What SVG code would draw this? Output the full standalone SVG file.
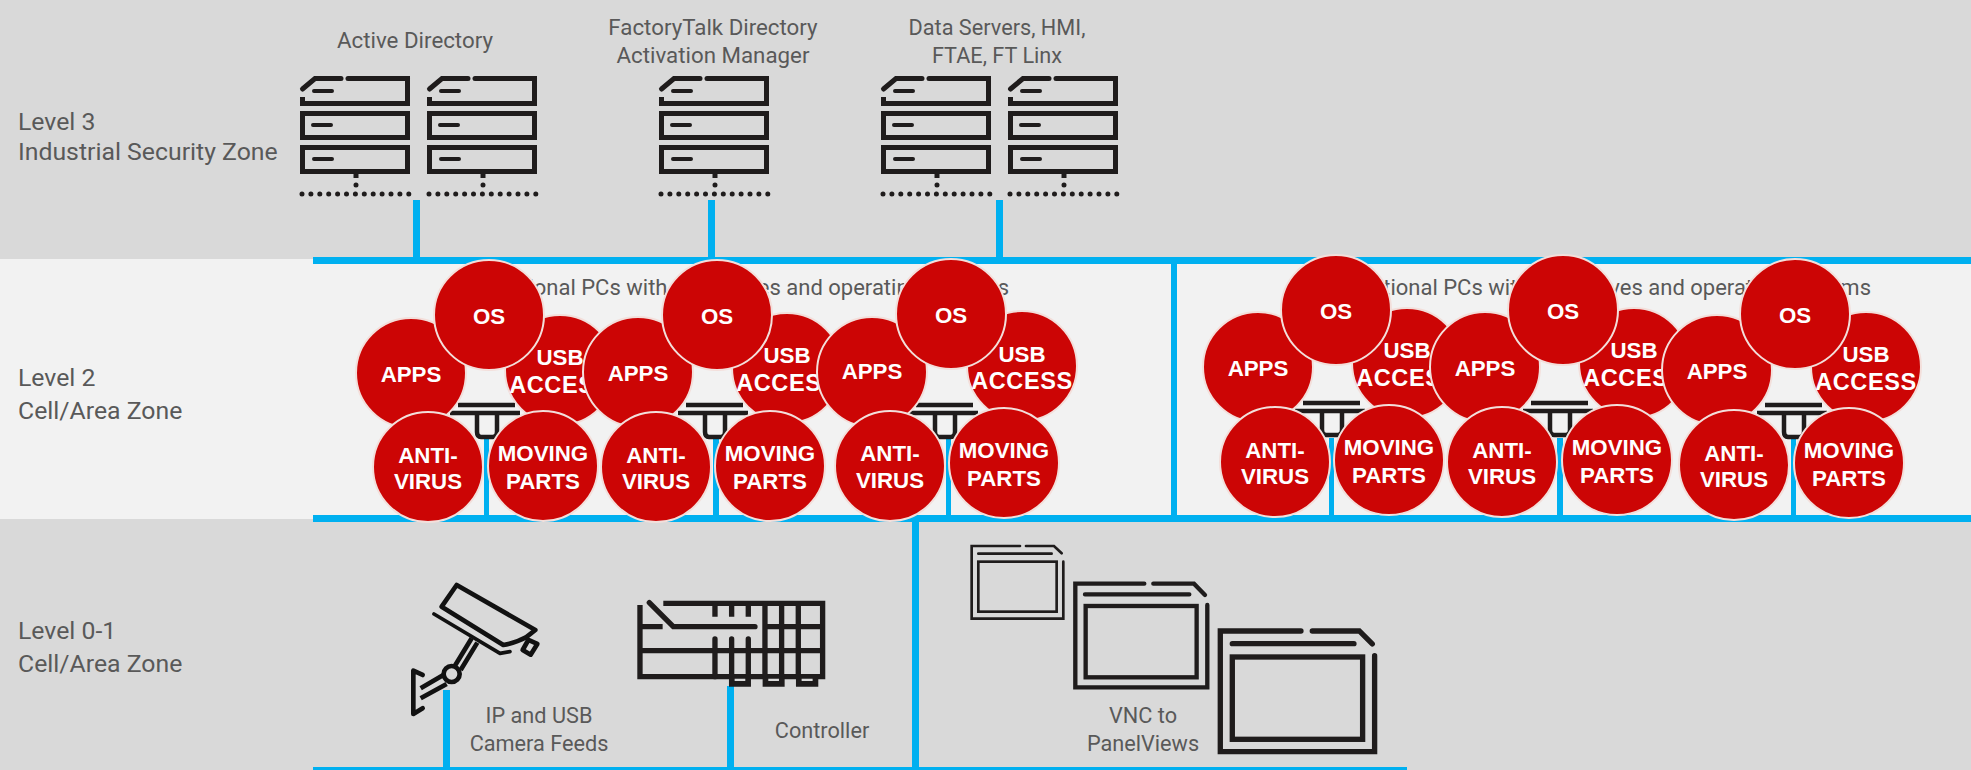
<svg xmlns="http://www.w3.org/2000/svg" width="1971" height="770" viewBox="0 0 1971 770">
<style>
.t{font-family:"Roboto","Liberation Sans",sans-serif;fill:#595959;font-size:21.7px;text-anchor:middle}
.f{font-size:22.3px}
.p{font-size:22px;text-anchor:end}
.l{font-family:"Roboto","Liberation Sans",sans-serif;fill:#595959;font-size:24.8px}
.c{fill:#CC0505;stroke:#F3DFDB;stroke-width:2}
.b{font-family:"Liberation Sans",Arial,sans-serif;font-weight:700;font-size:22.3px;fill:#fff;text-anchor:middle}
.a{font-size:23.5px;letter-spacing:.6px}
.k{fill:none;stroke:#1F1C1C;stroke-width:5}
.r{stroke-linecap:round}
.w{fill:#00B0F0}
</style>
<defs>
<g id="server" class="k">
<path class="r" d="M2.500 13 L15 2.500 H41"/>
<path class="r" d="M48 2.500 H107.500"/>
<path d="M107.500 0 V30 M110 27.500 H0 M2.500 30 V21"/>
<path class="r" stroke-width="4" d="M14 15 H32 M13 49 H31 M14 83 H32"/>
<rect x="2.500" y="37.500" width="105" height="24"/>
<rect x="2.500" y="71.500" width="105" height="24"/>
<path d="M56 98 V102"/>
<path class="r" stroke-dasharray="0 8.900" d="M56 109 V109.100 M2 118 H110"/>
</g>
<g id="stand" class="k" style="stroke-width:4.500px">
<path d="M8 3 H65 M0 11 H70 M27 11 V30 Q27 35 31 35 H43 Q47 35 47 30 V11"/>
</g>
</defs>

<g id="bands">
<rect width="1971" height="259" fill="#D9D9D9"/>
<rect y="259" width="1971" height="260" fill="#F2F2F2"/>
<rect y="519" width="1971" height="251" fill="#D9D9D9"/>
</g>

<g id="connectors" class="w">
<rect x="313" y="257" width="1658" height="7"/>
<rect x="313" y="515" width="1658" height="7"/>
<rect x="313" y="767" width="1094" height="3"/>
<rect x="413" y="200" width="7" height="58"/>
<rect x="708" y="200" width="7" height="58"/>
<rect x="996" y="200" width="7" height="58"/>
<rect x="1171" y="260" width="6" height="258"/>
<rect x="912" y="520" width="7" height="250"/>
<rect x="484" y="438" width="5" height="80"/>
<rect x="713" y="438" width="6" height="80"/>
<rect x="946" y="438" width="5" height="80"/>
<rect x="1329" y="438" width="5" height="80"/>
<rect x="1557" y="438" width="6" height="80"/>
<rect x="1791" y="438" width="5" height="80"/>
<rect x="443" y="690" width="7" height="80"/>
<rect x="727" y="686" width="7" height="84"/>
</g>

<g id="zone-labels">
<text class="l" x="18" y="130">Level 3</text>
<text class="l" x="18" y="160">Industrial Security Zone</text>
<text class="l" x="18" y="386">Level 2</text>
<text class="l" x="18" y="419">Cell/Area Zone</text>
<text class="l" x="18" y="639">Level 0-1</text>
<text class="l" x="18" y="672">Cell/Area Zone</text>
</g>

<g id="active-directory">
<text class="t f" x="415" y="48">Active Directory</text>
<use href="#server" x="300" y="76"/>
<use href="#server" x="427" y="76"/>
</g>
<g id="factorytalk-directory">
<text class="t f" x="713" y="35">FactoryTalk Directory</text>
<text class="t f" x="713" y="63">Activation Manager</text>
<use href="#server" x="659" y="76"/>
</g>
<g id="data-servers">
<text class="t" x="997" y="35">Data Servers, HMI,</text>
<text class="t" x="997" y="63">FTAE, FT Linx</text>
<use href="#server" x="881" y="76"/>
<use href="#server" x="1008" y="76"/>
</g>

<g id="pc-label-left"><text class="t p" x="1009" y="295">Traditional PCs with hard drives and operating systems</text></g>
<g id="pc-label-right"><text class="t p" x="1871" y="295">Traditional PCs with hard drives and operating systems</text></g>

<g id="pc1">
<use href="#stand" x="450" y="402"/>
<circle class="c" cx="560" cy="370" r="55"/><text class="b" x="560" y="365">USB</text><text class="b a" x="560" y="393">ACCESS</text>
<circle class="c" cx="411" cy="373" r="55"/><text class="b" x="411" y="382">APPS</text>
<circle class="c" cx="489" cy="315" r="55"/><text class="b" x="489" y="324">OS</text>
<circle class="c" cx="428" cy="467" r="55"/><text class="b" x="428" y="463">ANTI-</text><text class="b" x="428" y="489">VIRUS</text>
<circle class="c" cx="543" cy="466" r="55"/><text class="b" x="543" y="461">MOVING</text><text class="b" x="543" y="489">PARTS</text>
</g>
<g id="pc2">
<use href="#stand" x="678" y="402"/>
<circle class="c" cx="787" cy="368" r="55"/><text class="b" x="787" y="363">USB</text><text class="b a" x="787" y="391">ACCESS</text>
<circle class="c" cx="638" cy="372" r="55"/><text class="b" x="638" y="381">APPS</text>
<circle class="c" cx="717" cy="315" r="55"/><text class="b" x="717" y="324">OS</text>
<circle class="c" cx="656" cy="467" r="55"/><text class="b" x="656" y="463">ANTI-</text><text class="b" x="656" y="489">VIRUS</text>
<circle class="c" cx="770" cy="466" r="55"/><text class="b" x="770" y="461">MOVING</text><text class="b" x="770" y="489">PARTS</text>
</g>
<g id="pc3">
<use href="#stand" x="908" y="402"/>
<circle class="c" cx="1022" cy="366" r="55"/><text class="b" x="1022" y="362">USB</text><text class="b a" x="1022" y="389">ACCESS</text>
<circle class="c" cx="872" cy="372" r="55"/><text class="b" x="872" y="379">APPS</text>
<circle class="c" cx="951" cy="314" r="55"/><text class="b" x="951" y="323">OS</text>
<circle class="c" cx="890" cy="466" r="55"/><text class="b" x="890" y="461">ANTI-</text><text class="b" x="890" y="488">VIRUS</text>
<circle class="c" cx="1004" cy="463" r="55"/><text class="b" x="1004" y="458">MOVING</text><text class="b" x="1004" y="486">PARTS</text>
</g>
<g id="pc4">
<use href="#stand" x="1295" y="400"/>
<circle class="c" cx="1407" cy="363" r="55"/><text class="b" x="1407" y="358">USB</text><text class="b a" x="1407" y="386">ACCESS</text>
<circle class="c" cx="1258" cy="367" r="55"/><text class="b" x="1258" y="376">APPS</text>
<circle class="c" cx="1336" cy="310" r="55"/><text class="b" x="1336" y="319">OS</text>
<circle class="c" cx="1275" cy="462" r="55"/><text class="b" x="1275" y="458">ANTI-</text><text class="b" x="1275" y="484">VIRUS</text>
<circle class="c" cx="1389" cy="460" r="55"/><text class="b" x="1389" y="455">MOVING</text><text class="b" x="1389" y="483">PARTS</text>
</g>
<g id="pc5">
<use href="#stand" x="1523" y="400"/>
<circle class="c" cx="1634" cy="363" r="55"/><text class="b" x="1634" y="358">USB</text><text class="b a" x="1634" y="386">ACCESS</text>
<circle class="c" cx="1485" cy="367" r="55"/><text class="b" x="1485" y="376">APPS</text>
<circle class="c" cx="1563" cy="310" r="55"/><text class="b" x="1563" y="319">OS</text>
<circle class="c" cx="1502" cy="462" r="55"/><text class="b" x="1502" y="458">ANTI-</text><text class="b" x="1502" y="484">VIRUS</text>
<circle class="c" cx="1617" cy="460" r="55"/><text class="b" x="1617" y="455">MOVING</text><text class="b" x="1617" y="483">PARTS</text>
</g>
<g id="pc6">
<use href="#stand" x="1757" y="402"/>
<circle class="c" cx="1866" cy="367" r="55"/><text class="b" x="1866" y="362">USB</text><text class="b a" x="1866" y="390">ACCESS</text>
<circle class="c" cx="1717" cy="370" r="55"/><text class="b" x="1717" y="379">APPS</text>
<circle class="c" cx="1795" cy="314" r="55"/><text class="b" x="1795" y="323">OS</text>
<circle class="c" cx="1734" cy="465" r="55"/><text class="b" x="1734" y="461">ANTI-</text><text class="b" x="1734" y="487">VIRUS</text>
<circle class="c" cx="1849" cy="463" r="55"/><text class="b" x="1849" y="458">MOVING</text><text class="b" x="1849" y="486">PARTS</text>
</g>

<g id="camera">
<g transform="translate(380 560) scale(0.3333)" fill="none" stroke="#111" stroke-width="14" stroke-linejoin="round">
<path d="M230 75 L466 210 L438 232 Q410 248 370 255 L185 140 Z"/>
<path stroke-linecap="round" stroke-width="11" d="M162 162 L360 280 L390 275"/>
<path d="M445 240 L472 252 L452 284 L428 270 Z"/>
<path d="M275 235 L222 322 M292 248 L242 330"/>
<circle cx="215" cy="342" r="24"/>
<path d="M190 345 L122 385 M200 372 L122 415"/>
<path stroke-linecap="round" d="M128 345 L100 332 V462 L128 445"/>
</g>
<text class="t" x="539" y="723">IP and USB</text>
<text class="t" x="539" y="751">Camera Feeds</text>
</g>

<g id="controller">
<g transform="translate(380 560) scale(0.3333)" fill="none" stroke="#1F1C1C" stroke-width="16">
<path d="M850 130 H1328 V350 H780 V135"/>
<path stroke-linecap="round" d="M808 128 L880 200 H1125"/>
<path d="M780 200 H848 M780 272 H1328 M1155 200 H1328"/>
<path d="M1005 130 V170 M1055 130 V170 M1105 130 V170 M1155 130 V350 M1205 130 V350 M1255 130 V350"/>
<path stroke-linecap="round" d="M1005 237 V350 M1055 237 V350 M1105 237 V350"/>
<path stroke="none" fill="#1F1C1C" d="M1047 350 H1113 V380 H1047 Z M1148 350 H1214 V380 H1148 Z M1248 350 H1315 V380 H1248 Z"/>
<path stroke="none" fill="#D9D9D9" d="M1064 356 H1096 V363 H1064 Z M1165 356 H1197 V363 H1165 Z M1265 356 H1298 V363 H1265 Z"/>
</g>
<text class="t" x="822" y="738">Controller</text>
</g>

<g id="panelviews">
<g transform="translate(900 520) scale(0.3333)" fill="none" stroke="#1F1C1C" stroke-linecap="round">
<g stroke-width="8">
<path d="M360 78 H215 V296 H490 V125 M378 78 H462 L485 100 M235 101 H455"/>
<rect x="235" y="125" width="235" height="150"/>
</g>
<g stroke-width="13">
<path d="M733 191 H526 V502 H922 V255 M760 191 H882 L915 225 M555 223 H868"/>
<rect x="557" y="258" width="333" height="214"/>
</g>
<g stroke-width="16">
<path d="M1203 333 H961 V695 H1424 V407 M1237 333 H1378 L1417 372 M997 371 H1362"/>
<rect x="997" y="411" width="391" height="247"/>
</g>
</g>
<text class="t" x="1143" y="723">VNC to</text>
<text class="t" x="1143" y="751">PanelViews</text>
</g>
</svg>
